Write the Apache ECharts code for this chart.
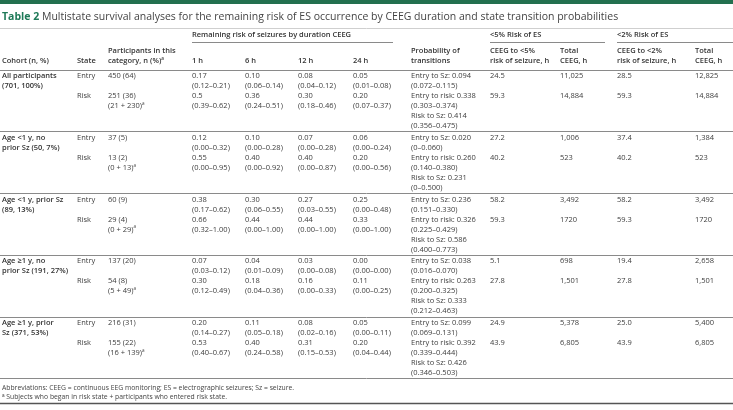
<!DOCTYPE html>
<html><head><meta charset="utf-8">
<script src="https://cdn.jsdelivr.net/npm/echarts@6/dist/echarts.min.js"></script>
<style>html,body{margin:0;padding:0;background:#fff}#c{width:733px;height:410px}</style>
</head><body><div id="c"></div>
<script>
// ---------------- DATA ----------------
const title = 'Multistate survival analyses for the remaining risk of ES occurrence by CEEG duration and state transition probabilities';
const cohorts = [['All participants','(701, 100%)'], ['Age <1 y, no','prior Sz (50, 7%)'], ['Age <1 y, prior Sz','(89, 13%)'], ['Age \u22651 y, no','prior Sz (191, 27%)'], ['Age \u22651 y, prior','Sz (371, 53%)']];
const states = ['Entry', 'Risk'];
const entryN = [450, 37, 60, 137, 216];
const entryPct = [64, 5, 9, 20, 31];
const riskN = [251, 13, 29, 54, 155];
const riskPct = [36, 2, 4, 8, 22];
const riskBegan = [21, 0, 0, 5, 16];
const riskEntered = [230, 13, 29, 49, 139];
const hours = ['1 h', '6 h', '12 h', '24 h'];
const entryEst = [['0.17','0.10','0.08','0.05'],['0.12','0.10','0.07','0.06'],['0.38','0.30','0.27','0.25'],['0.07','0.04','0.03','0.00'],['0.20','0.11','0.08','0.05']];
const entryCI = [['0.12\u20130.21','0.06\u20130.14','0.04\u20130.12','0.01\u20130.08'],['0.00\u20130.32','0.00\u20130.28','0.00\u20130.28','0.00\u20130.24'],['0.17\u20130.62','0.06\u20130.55','0.03\u20130.55','0.00\u20130.48'],['0.03\u20130.12','0.01\u20130.09','0.00\u20130.08','0.00\u20130.00'],['0.14\u20130.27','0.05\u20130.18','0.02\u20130.16','0.00\u20130.11']];
const riskEst = [['0.5','0.36','0.30','0.20'],['0.55','0.40','0.40','0.20'],['0.66','0.44','0.44','0.33'],['0.30','0.18','0.16','0.11'],['0.53','0.40','0.31','0.20']];
const riskCI = [['0.39\u20130.62','0.24\u20130.51','0.18\u20130.46','0.07\u20130.37'],['0.00\u20130.95','0.00\u20130.92','0.00\u20130.87','0.00\u20130.56'],['0.32\u20131.00','0.00\u20131.00','0.00\u20131.00','0.00\u20131.00'],['0.12\u20130.49','0.04\u20130.36','0.00\u20130.33','0.00\u20130.25'],['0.40\u20130.67','0.24\u20130.58','0.15\u20130.53','0.04\u20130.44']];
const transitionNames = ['Entry to Sz', 'Entry to risk', 'Risk to Sz'];
const entryToSz = ['0.094','0.020','0.236','0.038','0.099'];
const entryToSzCI = ['0.072\u20130.115','0\u20130.060','0.151\u20130.330','0.016\u20130.070','0.069\u20130.131'];
const entryToRisk = ['0.338','0.260','0.326','0.263','0.392'];
const entryToRiskCI = ['0.303\u20130.374','0.140\u20130.380','0.225\u20130.429','0.200\u20130.325','0.339\u20130.444'];
const riskToSz = ['0.414','0.231','0.586','0.333','0.426'];
const riskToSzCI = ['0.356\u20130.475','0\u20130.500','0.400\u20130.773','0.212\u20130.463','0.346\u20130.503'];
const ceeg5Entry = ['24.5','27.2','58.2','5.1','24.9'];
const total5Entry = ['11,025','1,006','3,492','698','5,378'];
const ceeg2Entry = ['28.5','37.4','58.2','19.4','25.0'];
const total2Entry = ['12,825','1,384','3,492','2,658','5,400'];
const ceeg5Risk = ['59.3','40.2','59.3','27.8','43.9'];
const total5Risk = ['14,884','523','1720','1,501','6,805'];
const ceeg2Risk = ['59.3','40.2','59.3','27.8','43.9'];
const total2Risk = ['14,884','523','1720','1,501','6,805'];
const abbreviations = 'Abbreviations: CEEG = continuous EEG monitoring; ES = electrographic seizures; Sz = seizure.';
const footnote = 'Subjects who began in risk state + participants who entered risk state.';

// ---------------- LAYOUT ----------------
const W = 733, H = 410;
const COLX = [2, 77, 108, 192, 245, 298, 353, 411, 490, 560, 617, 695];
const HEAD_Y = [35, 51, 61];
const BODY_TOP = 76, GROUP_H = 61.75, LH = 10;
function rowY(g, k) { return g < 0 ? HEAD_Y[k] : BODY_TOP + GROUP_H * g + LH * k; }
const FONT = '"Open Sans", "Noto Sans", sans-serif';
const TXT = '#3d3d3d', HEAD = '#333333';
const FS = 7.5;

// ---------------- CELLS ----------------
const cells = [];
function add(c, g, k, text, bold) { cells.push({ value: [c, g, k], text: text, bold: !!bold }); }
add(3, -1, 0, 'Remaining risk of seizures by duration CEEG', true);
add(8, -1, 0, '<5% Risk of ES', true);
add(10, -1, 0, '<2% Risk of ES', true);
add(0, -1, 2, 'Cohort (n, %)', true);
add(1, -1, 2, 'State', true);
add(2, -1, 1, 'Participants in this\ncategory, n (%){sup|a}', true);
hours.forEach((h, i) => add(3 + i, -1, 2, h, true));
add(7, -1, 1, 'Probability of\ntransitions', true);
add(8, -1, 1, 'CEEG to <5%\nrisk of seizure, h', true);
add(9, -1, 1, 'Total\nCEEG, h', true);
add(10, -1, 1, 'CEEG to <2%\nrisk of seizure, h', true);
add(11, -1, 1, 'Total\nCEEG, h', true);
cohorts.forEach((co, g) => {
  add(0, g, 0, co.join('\n'), true);
  add(1, g, 0, states[0]);
  add(1, g, 2, states[1]);
  add(2, g, 0, entryN[g] + ' (' + entryPct[g] + ')');
  add(2, g, 2, riskN[g] + ' (' + riskPct[g] + ')\n(' + riskBegan[g] + ' + ' + riskEntered[g] + '){sup|a}');
  for (let h = 0; h < 4; h++) {
    add(3 + h, g, 0, entryEst[g][h] + '\n(' + entryCI[g][h] + ')');
    add(3 + h, g, 2, riskEst[g][h] + '\n(' + riskCI[g][h] + ')');
  }
  add(7, g, 0, [
    transitionNames[0] + ': ' + entryToSz[g], '(' + entryToSzCI[g] + ')',
    transitionNames[1] + ': ' + entryToRisk[g], '(' + entryToRiskCI[g] + ')',
    transitionNames[2] + ': ' + riskToSz[g], '(' + riskToSzCI[g] + ')'
  ].join('\n'));
  add(8, g, 0, ceeg5Entry[g]); add(9, g, 0, total5Entry[g]);
  add(10, g, 0, ceeg2Entry[g]); add(11, g, 0, total2Entry[g]);
  add(8, g, 2, ceeg5Risk[g]); add(9, g, 2, total5Risk[g]);
  add(10, g, 2, ceeg2Risk[g]); add(11, g, 2, total2Risk[g]);
});

// ---------------- RULES (decoration) ----------------
const RULE = '#8a8a8a';
function hline(x1, x2, y, color, w) {
  return { type: 'line', silent: true, shape: { x1: x1, y1: y, x2: x2, y2: y }, style: { stroke: color, lineWidth: w } };
}
const graphics = [
  { type: 'rect', silent: true, shape: { x: 0, y: 0, width: W, height: 4 }, style: { fill: '#23704f' } },
  { type: 'text', silent: true, x: 2, y: 17, style: { text: '{b|Table 2} ' + title, fontFamily: FONT, fontSize: 10.5, fill: '#444', verticalAlign: 'middle',
      rich: { b: { fontFamily: FONT, fontSize: 10.5, fontWeight: 'bold', fill: '#1f7a58' } } } },
  hline(0, W, 28.5, '#cfcfcf', 1),
  hline(192, 393, 42.5, RULE, 1),
  hline(490, 605, 42.5, RULE, 1),
  hline(617, W, 42.5, RULE, 1),
  { type: 'text', silent: true, x: 2, y: 388, style: { text: abbreviations, fontFamily: FONT, fontSize: 6.8, fill: '#444', verticalAlign: 'middle' } },
  { type: 'text', silent: true, x: 2, y: 397, style: { text: '{s|a} ' + footnote, fontFamily: FONT, fontSize: 6.8, fill: '#444', verticalAlign: 'middle',
      rich: { s: { fontSize: 4.6, verticalAlign: 'top', fill: '#444' } } } },
  hline(0, W, 403.5, '#555', 1.5)
];
for (let g = 0; g <= cohorts.length; g++) {
  graphics.push(hline(0, W, Math.round(BODY_TOP + GROUP_H * g - 6.5) + 0.5, RULE, 1));
}

const chart = echarts.init(document.getElementById('c'));
chart.setOption({
  animation: false,
  grid: { left: 0, right: 0, top: 0, bottom: 0 },
  xAxis: { type: 'value', min: 0, max: W, show: false },
  yAxis: { type: 'value', min: 0, max: H, inverse: true, show: false },
  graphic: graphics,
  series: [{
    type: 'custom',
    coordinateSystem: 'cartesian2d',
    clip: false,
    data: cells.map(c => ({ value: c.value })),
    encode: { x: 0, y: 1 },
    renderItem: function (params, api) {
      const cell = cells[params.dataIndex];
      const c = api.value(0), g = api.value(1), k = api.value(2);
      const p = api.coord([COLX[c], rowY(g, k)]);
      return {
        type: 'text', x: p[0], y: p[1] - LH / 2,
        style: {
          text: cell.text, fontFamily: FONT, fontSize: FS, fontWeight: cell.bold ? 600 : 'normal',
          fill: cell.bold ? HEAD : TXT, lineHeight: LH, align: 'left', verticalAlign: 'top',
          rich: { sup: { fontFamily: FONT, fontSize: 4.6, fontWeight: cell.bold ? 600 : 'normal', fill: cell.bold ? HEAD : TXT, verticalAlign: 'top', lineHeight: LH } }
        }
      };
    }
  }]
});
</script>
</body></html>
